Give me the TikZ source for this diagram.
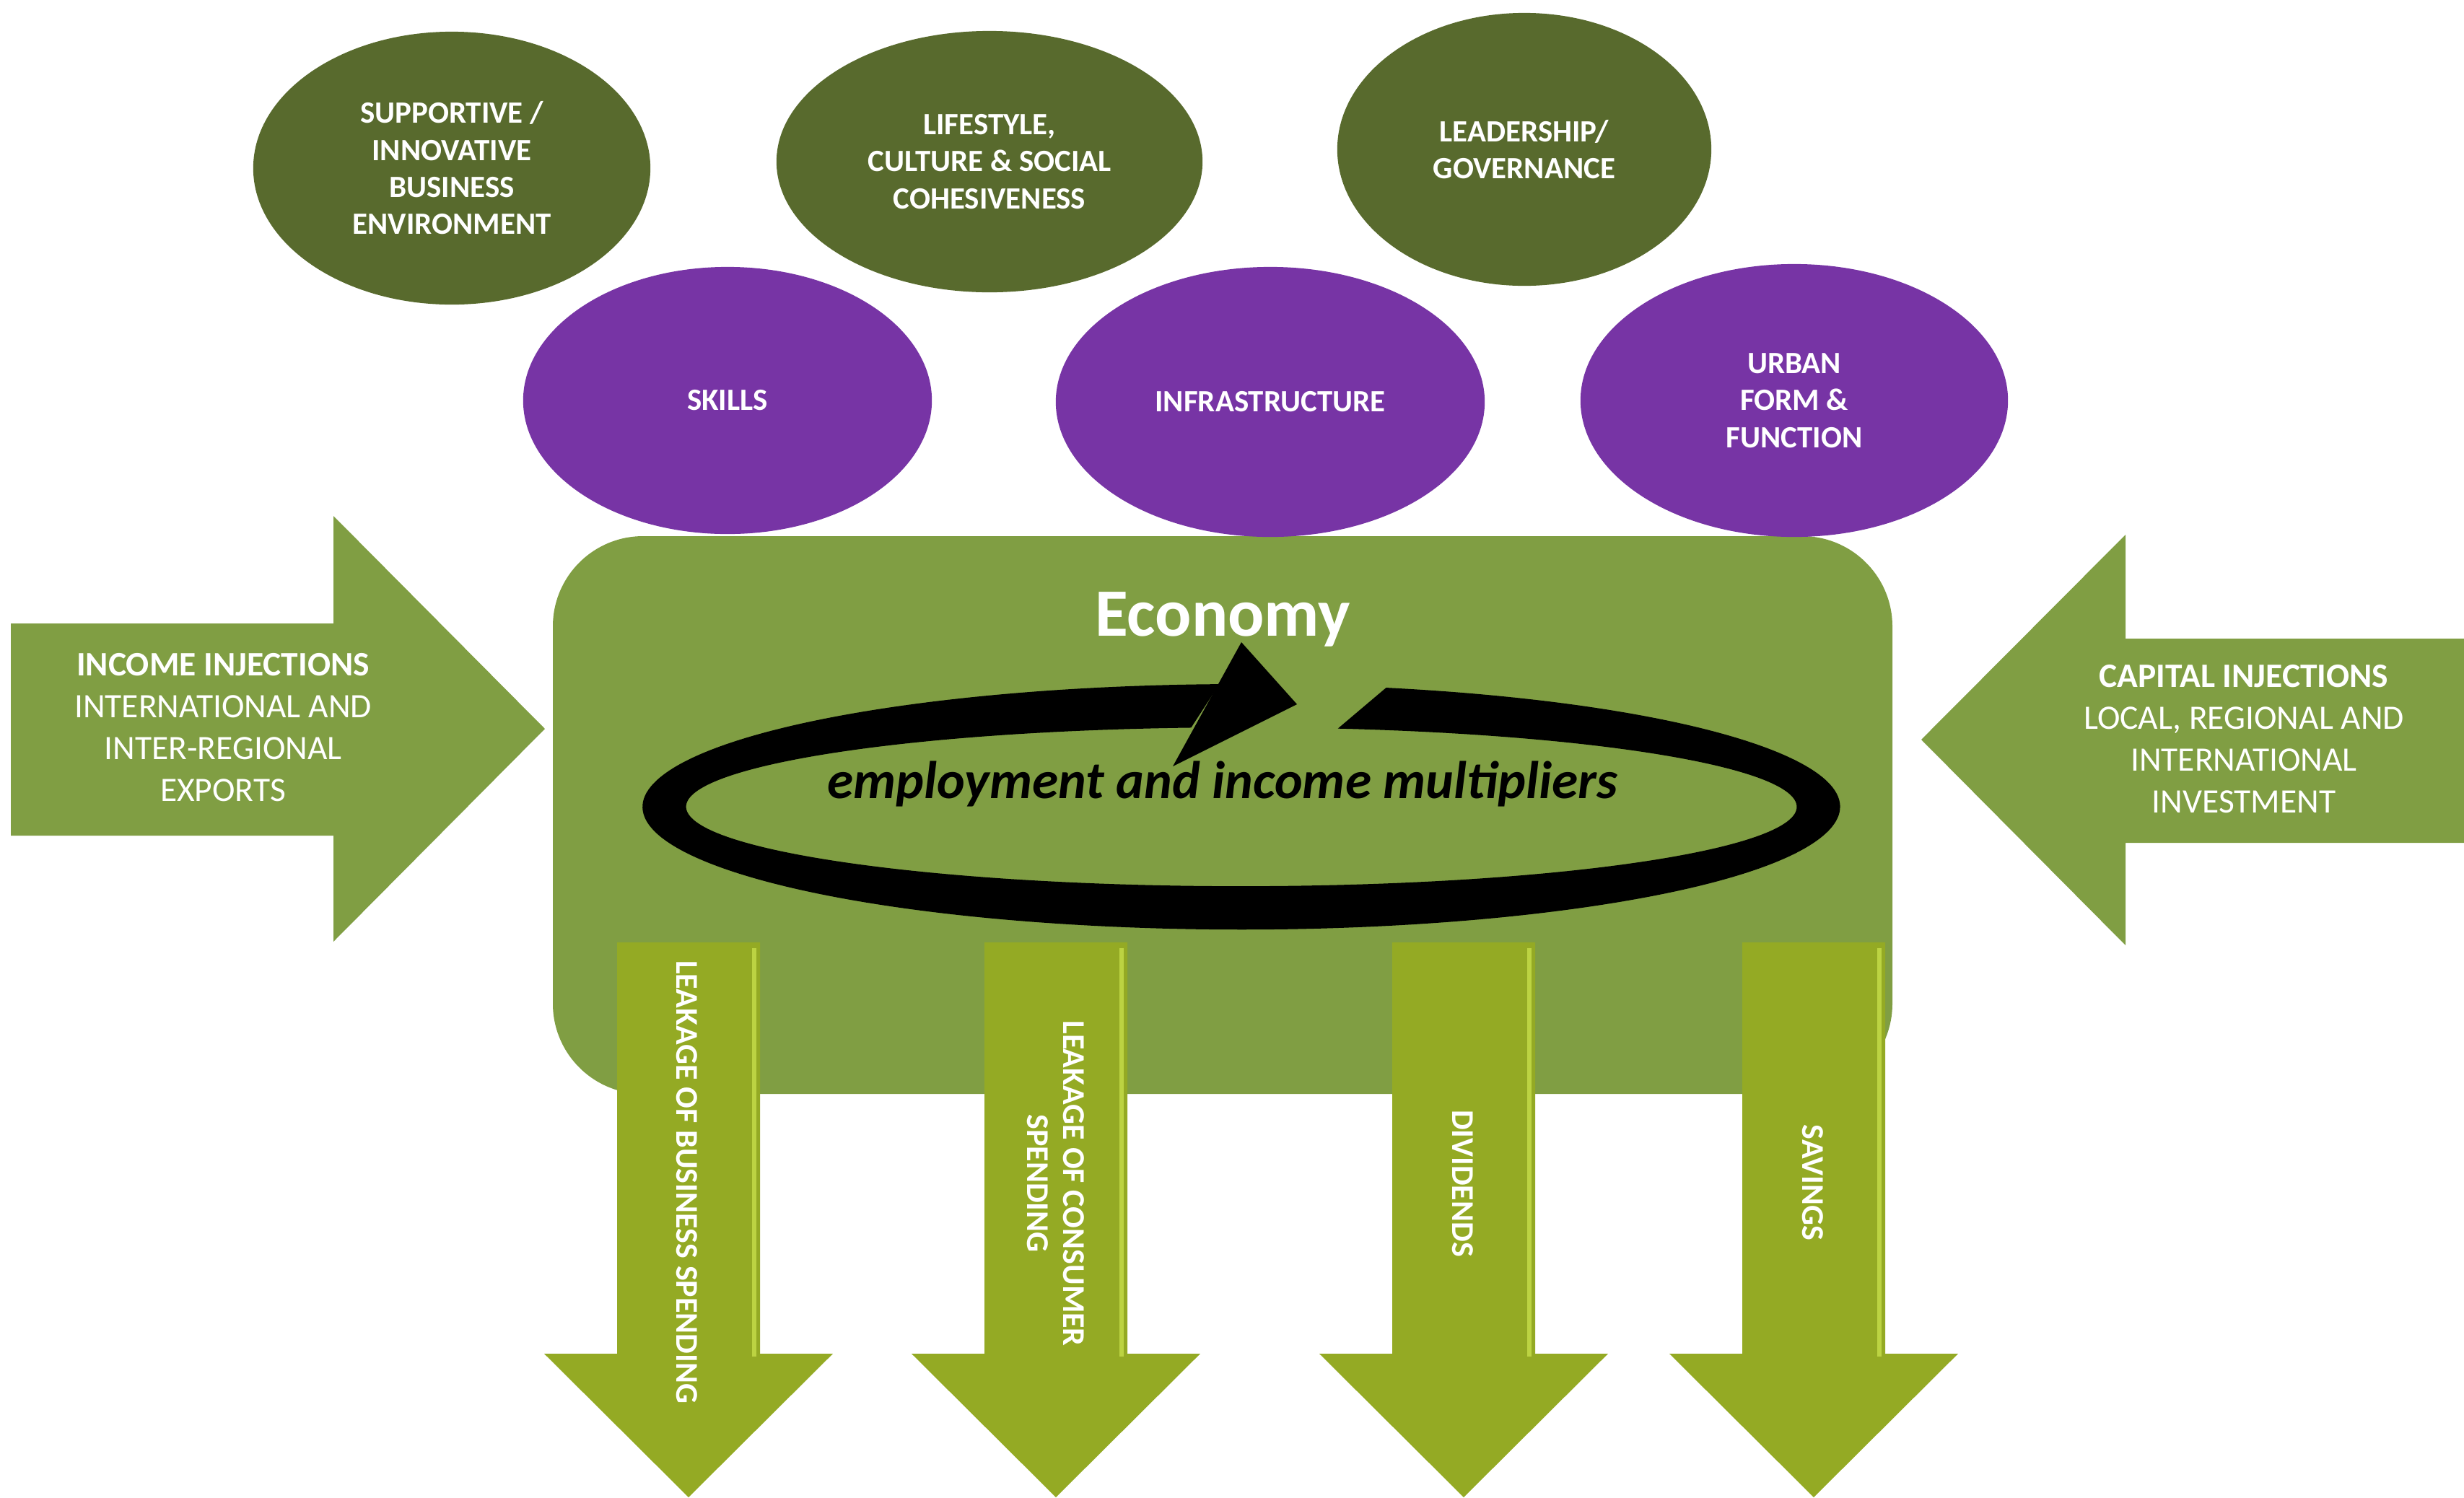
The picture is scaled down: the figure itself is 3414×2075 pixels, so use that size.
\documentclass[tikz,border=0pt]{standalone}
\usepackage{fontspec}
\setmainfont{Carlito}
\usetikzlibrary{shapes.geometric,calc}
\definecolor{boxgreen}{HTML}{809E43}
\definecolor{ovalgreen}{HTML}{586A2D}
\definecolor{ovalpurple}{HTML}{7734A5}
\definecolor{leakgreen}{HTML}{94AA24}
\definecolor{leaklight}{HTML}{C6DE4A}
\newcommand\leakarrow[1]{%
  \fill[leakgreen] (#1-99,-1306) -- (#1+99,-1306) -- (#1+99,-1876) -- (#1+200,-1876) -- (#1,-2075) -- (#1-200,-1876) -- (#1-99,-1876) -- cycle;
  \fill[leaklight, opacity=0.8] (#1+88,-1314) rectangle (#1+94,-1880);}
\begin{document}
\begin{tikzpicture}[x=0.01cm,y=0.01cm,
  oval/.style={ellipse, inner sep=0pt, align=center, text=white, font=\fontsize{12.2}{14.6}\selectfont\bfseries},
  sidetext/.style={align=center, text=white, font=\fontsize{13.5}{16.5}\selectfont},
  leaktext/.style={align=center, text=white, rotate=-90, font=\fontsize{12.5}{14.2}\selectfont\bfseries}]
\useasboundingbox (0,0) rectangle (3414,-2075);

% economy box
\fill[boxgreen, rounded corners=1.25cm] (766,-743) rectangle (2622,-1516);

% top ovals
\node[oval, fill=ovalgreen, minimum width=5.50cm, minimum height=3.78cm] (e1) at (626,-233) {SUPPORTIVE /\\INNOVATIVE\\BUSINESS\\ENVIRONMENT};
\node[oval, fill=ovalgreen, minimum width=5.90cm, minimum height=3.62cm] (e2) at (1371,-224) {LIFESTYLE,\\CULTURE \& SOCIAL\\COHESIVENESS};
\node[oval, fill=ovalgreen, minimum width=5.18cm, minimum height=3.78cm] (e3) at (2112,-207) {LEADERSHIP/\\GOVERNANCE};
\node[oval, fill=ovalpurple, minimum width=5.66cm, minimum height=3.70cm] (p1) at (1008,-555) {SKILLS};
\node[oval, fill=ovalpurple, minimum width=5.94cm, minimum height=3.74cm] (p2) at (1760,-557) {INFRASTRUCTURE};
\node[oval, fill=ovalpurple, minimum width=5.92cm, minimum height=3.78cm] (p3) at (2486,-555) {URBAN\\FORM \&\\FUNCTION};

% economy label
\node[text=white, font=\fontsize{26.7}{32}\selectfont\bfseries] (econ) at (1694,-858) {Economy};

% circular arrow
\coordinate (rc) at (1720,-1118);
\fill[black] ($(rc)+(76:829 and 170)$) arc[start angle=76, end angle=-267.9, x radius=8.29cm, y radius=1.70cm]
  -- ($(rc)+(-264.8:769 and 110)$) arc[start angle=-264.8, end angle=80, x radius=7.69cm, y radius=1.10cm] -- cycle;
\fill[black] (1797,-976) -- (1720,-890) -- (1625,-1062) -- cycle;
\node[font=\fontsize{20.9}{25}\selectfont\bfseries\itshape] (mult) at (1694,-1086) {employment and income multipliers};

% side arrows
\fill[boxgreen] (15,-864) -- (462,-864) -- (462,-715) -- (755,-1010) -- (462,-1305) -- (462,-1158) -- (15,-1158) -- cycle;
\node[sidetext] (inc) at (309,-1008) {\textbf{INCOME INJECTIONS}\\INTERNATIONAL AND\\INTER-REGIONAL\\EXPORTS};
\fill[boxgreen] (3414,-885) -- (2945,-885) -- (2945,-741) -- (2662,-1025) -- (2945,-1310) -- (2945,-1168) -- (3414,-1168) -- cycle;
\node[sidetext] (cap) at (3109,-1024) {\textbf{CAPITAL INJECTIONS}\\LOCAL, REGIONAL AND\\INTERNATIONAL\\INVESTMENT};

% leakage arrows
\leakarrow{954}
\leakarrow{1463}
\leakarrow{2028}
\leakarrow{2513}
\node[leaktext] (l1) at (952,-1638) {LEAKAGE OF BUSINESS SPENDING};
\node[leaktext] (l2) at (1463,-1640) {LEAKAGE OF CONSUMER\\SPENDING};
\node[leaktext] (l3) at (2027,-1640) {DIVIDENDS};
\node[leaktext] (l4) at (2512,-1639) {SAVINGS};
\end{tikzpicture}
\end{document}
